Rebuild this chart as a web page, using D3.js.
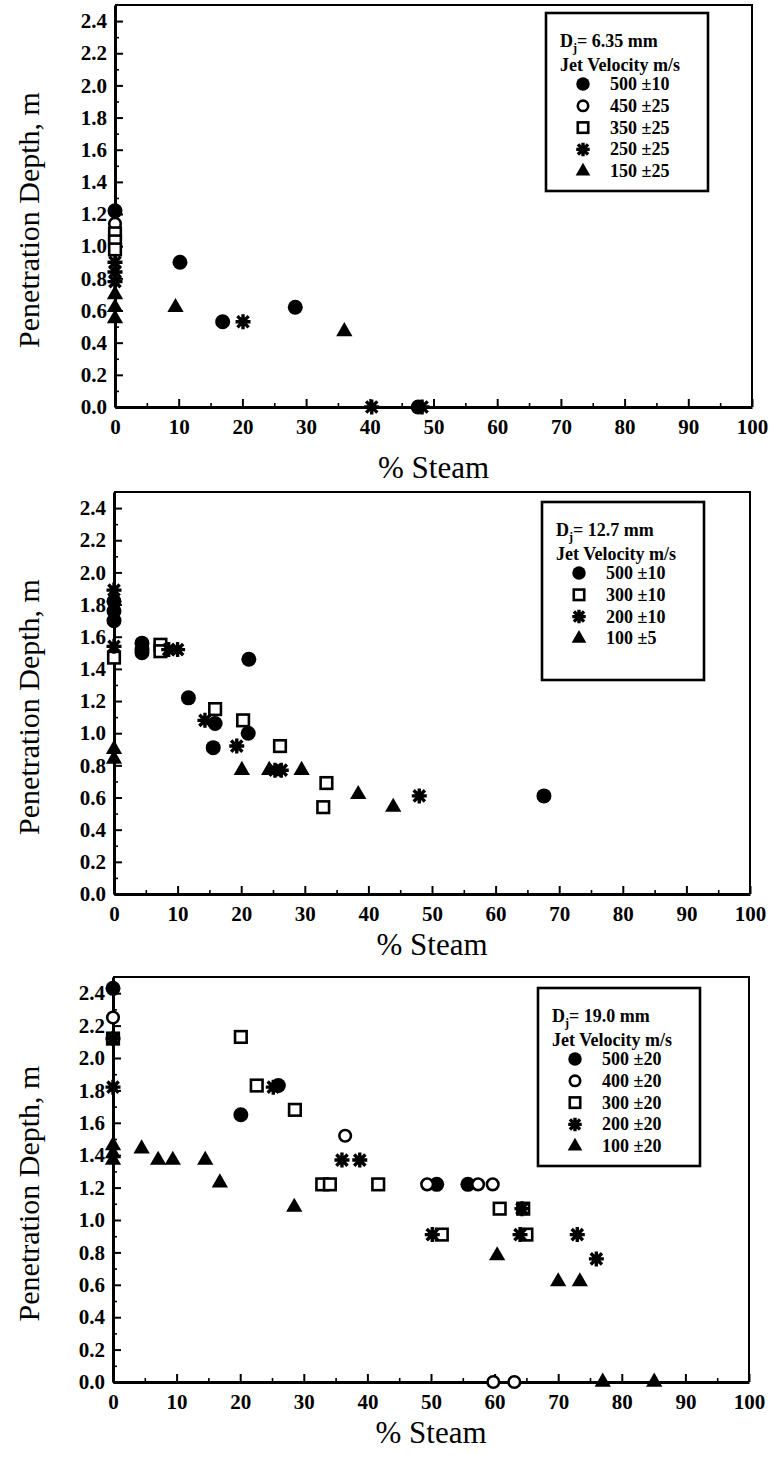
<!DOCTYPE html>
<html lang="en">
<head>
  <meta charset="UTF-8">
  <title>Penetration Depth vs % Steam</title>
  <script src="https://d3js.org/d3.v7.min.js"></script>
  <style>
    body { margin: 0; background: #fff; }
    svg { display: block; }
    svg text { font-family: "Liberation Serif", "Times New Roman", Times, serif; }
  </style>
</head>
<body>
  <script>
    // values, [% steam, depth m]
    // Dj = 6.35 mm
    const p1Vel500 = [[0, 1.22], [10.2, 0.90], [16.9, 0.53], [28.3, 0.62], [47.6, 0]];
    const p1Vel450 = [[0, 1.14]];
    const p1Vel350 = [[0, 1.08], [0, 1.03], [0, 0.98]];
    const p1Vel250 = [[0, 0.90], [0, 0.84], [0, 0.78], [20.1, 0.53], [40.3, 0], [48.2, 0]];
    const p1Vel150 = [[0, 0.70], [0, 0.62], [0, 0.55], [9.5, 0.62], [36, 0.47]];

    // Dj = 12.7 mm
    const p2Vel500 = [[0, 1.82], [0, 1.76], [0, 1.70], [4.4, 1.56], [4.4, 1.52], [4.4, 1.50], [11.7, 1.22],
      [15.9, 1.06], [15.6, 0.91], [21.2, 1.46], [21.1, 1.0], [67.6, 0.61]];
    const p2Vel300 = [[0, 1.47], [7.3, 1.55], [7.3, 1.51], [15.9, 1.15], [20.3, 1.08], [26.1, 0.92], [33.4, 0.69], [32.9, 0.54]];
    const p2Vel200 = [[0, 1.89], [0, 1.54], [8.6, 1.52], [10, 1.52], [14.3, 1.08], [19.3, 0.92], [25.3, 0.77], [26.3, 0.77], [48, 0.61]];
    const p2Vel100 = [[0, 0.90], [0, 0.84], [20.1, 0.77], [24.4, 0.77], [29.5, 0.77], [38.4, 0.62], [43.9, 0.54]];

    // Dj = 19.0 mm
    const p3Vel500 = [[0, 2.43], [20.1, 1.65], [26, 1.83], [50.9, 1.22], [55.8, 1.22]];
    const p3Vel400 = [[0, 2.25], [36.5, 1.52], [49.4, 1.22], [57.4, 1.22], [59.7, 1.22], [59.8, 0], [63.1, 0]];
    const p3Vel300 = [[0, 2.12], [20.1, 2.13], [22.6, 1.83], [28.6, 1.68], [32.9, 1.22], [34.1, 1.22], [41.7, 1.22],
      [60.8, 1.07], [64.5, 1.07], [51.7, 0.91], [65, 0.91]];
    const p3Vel200 = [[0, 1.82], [0, 2.12], [25.2, 1.82], [36, 1.37], [38.8, 1.37], [64.3, 1.07], [50.2, 0.91],
      [64, 0.91], [73, 0.91], [76, 0.76]];
    const p3Vel100 = [[0, 1.46], [0, 1.41], [0, 1.37], [4.5, 1.44], [7.1, 1.37], [9.4, 1.37], [14.5, 1.37],
      [16.8, 1.23], [28.5, 1.08], [60.4, 0.78], [70, 0.62], [73.4, 0.62], [77, 0], [85.1, 0]];

    const xTicks = d3.range(0, 101, 10);
    const yTicks = d3.range(0, 2.41, 0.2);
    const diameters = ["6.35", "12.7", "19.0"];

    const serif = "'Liberation Serif', 'Times New Roman', Times, serif";

    const panels = [
      { top: 5, bottom: 407, left: 115, right: 752, titleGap: 71, box: [546, 13],
        series: [
          { label: "500 \u00b110", shape: "dot", data: p1Vel500 },
          { label: "450 \u00b125", shape: "ring", data: p1Vel450 },
          { label: "350 \u00b125", shape: "square", data: p1Vel350 },
          { label: "250 \u00b125", shape: "star", data: p1Vel250 },
          { label: "150 \u00b125", shape: "tri", data: p1Vel150 }
        ] },
      { top: 492, bottom: 894, left: 114, right: 750, titleGap: 61, box: [542, 502],
        series: [
          { label: "500 \u00b110", shape: "dot", data: p2Vel500 },
          { label: "300 \u00b110", shape: "square", data: p2Vel300 },
          { label: "200 \u00b110", shape: "star", data: p2Vel200 },
          { label: "100 \u00b15", shape: "tri", data: p2Vel100 }
        ] },
      { top: 977, bottom: 1382, left: 113, right: 749, titleGap: 61, box: [538, 988],
        series: [
          { label: "500 \u00b120", shape: "dot", data: p3Vel500 },
          { label: "400 \u00b120", shape: "ring", data: p3Vel400 },
          { label: "300 \u00b120", shape: "square", data: p3Vel300 },
          { label: "200 \u00b120", shape: "star", data: p3Vel200 },
          { label: "100 \u00b120", shape: "tri", data: p3Vel100 }
        ] }
    ];

    const svg = d3.select("body").append("svg")
      .attr("width", 769)
      .attr("height", 1457)
      .attr("viewBox", [0, 0, 769, 1457])
      .attr("font-family", serif);

    svg.append("rect").attr("width", 769).attr("height", 1457).attr("fill", "#fff");

    // marker drawing
    function drawMarker(g, shape, size) {
      const s = size || 1;
      if (shape === "dot") {
        g.append("circle").attr("r", 7.5 * s).attr("fill", "#000");
      } else if (shape === "ring") {
        g.append("circle").attr("r", 5.8 * s).attr("fill", "#fff")
          .attr("stroke", "#000").attr("stroke-width", 2.6);
      } else if (shape === "square") {
        g.append("rect").attr("x", -5.8 * s).attr("y", -5.8 * s)
          .attr("width", 11.6 * s).attr("height", 11.6 * s)
          .attr("fill", "#fff").attr("stroke", "#000").attr("stroke-width", 2.6);
      } else if (shape === "tri") {
        g.append("path").attr("d", d3.symbol(d3.symbolTriangle, 115 * s * s)()).attr("fill", "#000");
      } else if (shape === "star") {
        const r = 7.5 * s, d = r * 0.75;
        g.append("path")
          .attr("d", `M${-r},0H${r}M0,${-r}V${r}M${-d},${-d}L${d},${d}M${-d},${d}L${d},${-d}`)
          .attr("stroke", "#000").attr("stroke-width", 3.4).attr("fill", "none");
        g.append("circle").attr("r", 2.6 * s).attr("fill", "#000");
      }
    }

    panels.forEach((p, i) => {
      const x = d3.scaleLinear().domain([0, 100]).range([p.left, p.right]);
      const y = d3.scaleLinear().domain([0, 2.5]).range([p.bottom, p.top]);
      const g = svg.append("g");

      // top and right frame
      g.append("path")
        .attr("d", `M${p.left},${p.top}H${p.right}V${p.bottom}`)
        .attr("fill", "none").attr("stroke", "#000").attr("stroke-width", 2);

      // minor ticks
      g.append("g")
        .attr("transform", `translate(0,${p.bottom})`)
        .call(d3.axisBottom(x).tickValues(d3.range(5, 100, 10)).tickSize(-4).tickFormat(""))
        .call(a => a.select(".domain").remove())
        .selectAll("line").attr("stroke-width", 1.6);
      g.append("g")
        .attr("transform", `translate(${p.left},0)`)
        .call(d3.axisLeft(y).tickValues(d3.range(0.1, 2.5, 0.2)).tickSize(-4).tickFormat(""))
        .call(a => a.select(".domain").remove())
        .selectAll("line").attr("stroke-width", 1.6);

      // major axes
      const xa = g.append("g")
        .attr("transform", `translate(0,${p.bottom})`)
        .call(d3.axisBottom(x).tickValues(xTicks).tickSize(-8).tickSizeOuter(0).tickPadding(10).tickFormat(d3.format("d")));
      const ya = g.append("g")
        .attr("transform", `translate(${p.left},0)`)
        .call(d3.axisLeft(y).tickValues(yTicks).tickSize(-8).tickSizeOuter(0).tickPadding(8).tickFormat(d3.format(".1f")));

      [xa, ya].forEach(a => {
        a.attr("font-family", serif);
        a.select(".domain").attr("stroke-width", 3);
        a.selectAll(".tick line").attr("stroke-width", 2);
        a.selectAll("text")
          .attr("font-family", serif)
          .attr("font-size", 21)
          .attr("font-weight", "bold")
          .attr("fill", "#000");
      });
      xa.selectAll(".tick text").attr("dy", "0.71em").attr("y", 12);

      // axis titles
      g.append("text")
        .attr("x", (p.left + p.right) / 2)
        .attr("y", p.bottom + p.titleGap)
        .attr("text-anchor", "middle")
        .attr("font-family", serif)
        .attr("font-size", 31)
        .text("% Steam");
      g.append("text")
        .attr("transform", `translate(39,${(p.top + p.bottom) / 2 + 14}) rotate(-90)`)
        .attr("text-anchor", "middle")
        .attr("font-family", serif)
        .attr("font-size", 30)
        .text("Penetration Depth, m");

      // data markers
      p.series.forEach(s => {
        s.data.forEach(d => {
          const m = g.append("g").attr("transform", `translate(${x(d[0])},${y(d[1])})`);
          drawMarker(m, s.shape);
        });
      });

      // legend
      const [bx, by] = p.box;
      const lg = g.append("g").attr("transform", `translate(${bx},${by})`)
        .attr("font-family", serif);
      lg.append("rect").attr("width", 162).attr("height", 178)
        .attr("fill", "#fff").attr("stroke", "#000").attr("stroke-width", 2.6);
      const t1 = lg.append("text").attr("x", 14).attr("y", 34)
        .attr("font-size", 18).attr("font-weight", "bold");
      t1.append("tspan").text("D");
      t1.append("tspan").attr("font-size", 12).attr("dy", 5).text("j");
      t1.append("tspan").attr("dy", -5).text("= " + diameters[i] + " mm");
      lg.append("text").attr("x", 14).attr("y", 58)
        .attr("font-size", 18).attr("font-weight", "bold")
        .text("Jet Velocity m/s");
      p.series.forEach((s, k) => {
        const cy = 71 + k * 21.8;
        const m = lg.append("g").attr("transform", `translate(37,${cy})`);
        drawMarker(m, s.shape, 0.9);
        lg.append("text").attr("x", 64).attr("y", cy + 6)
          .attr("font-size", 18).attr("font-weight", "bold")
          .text(s.label);
      });
    });
  </script>
</body>
</html>
